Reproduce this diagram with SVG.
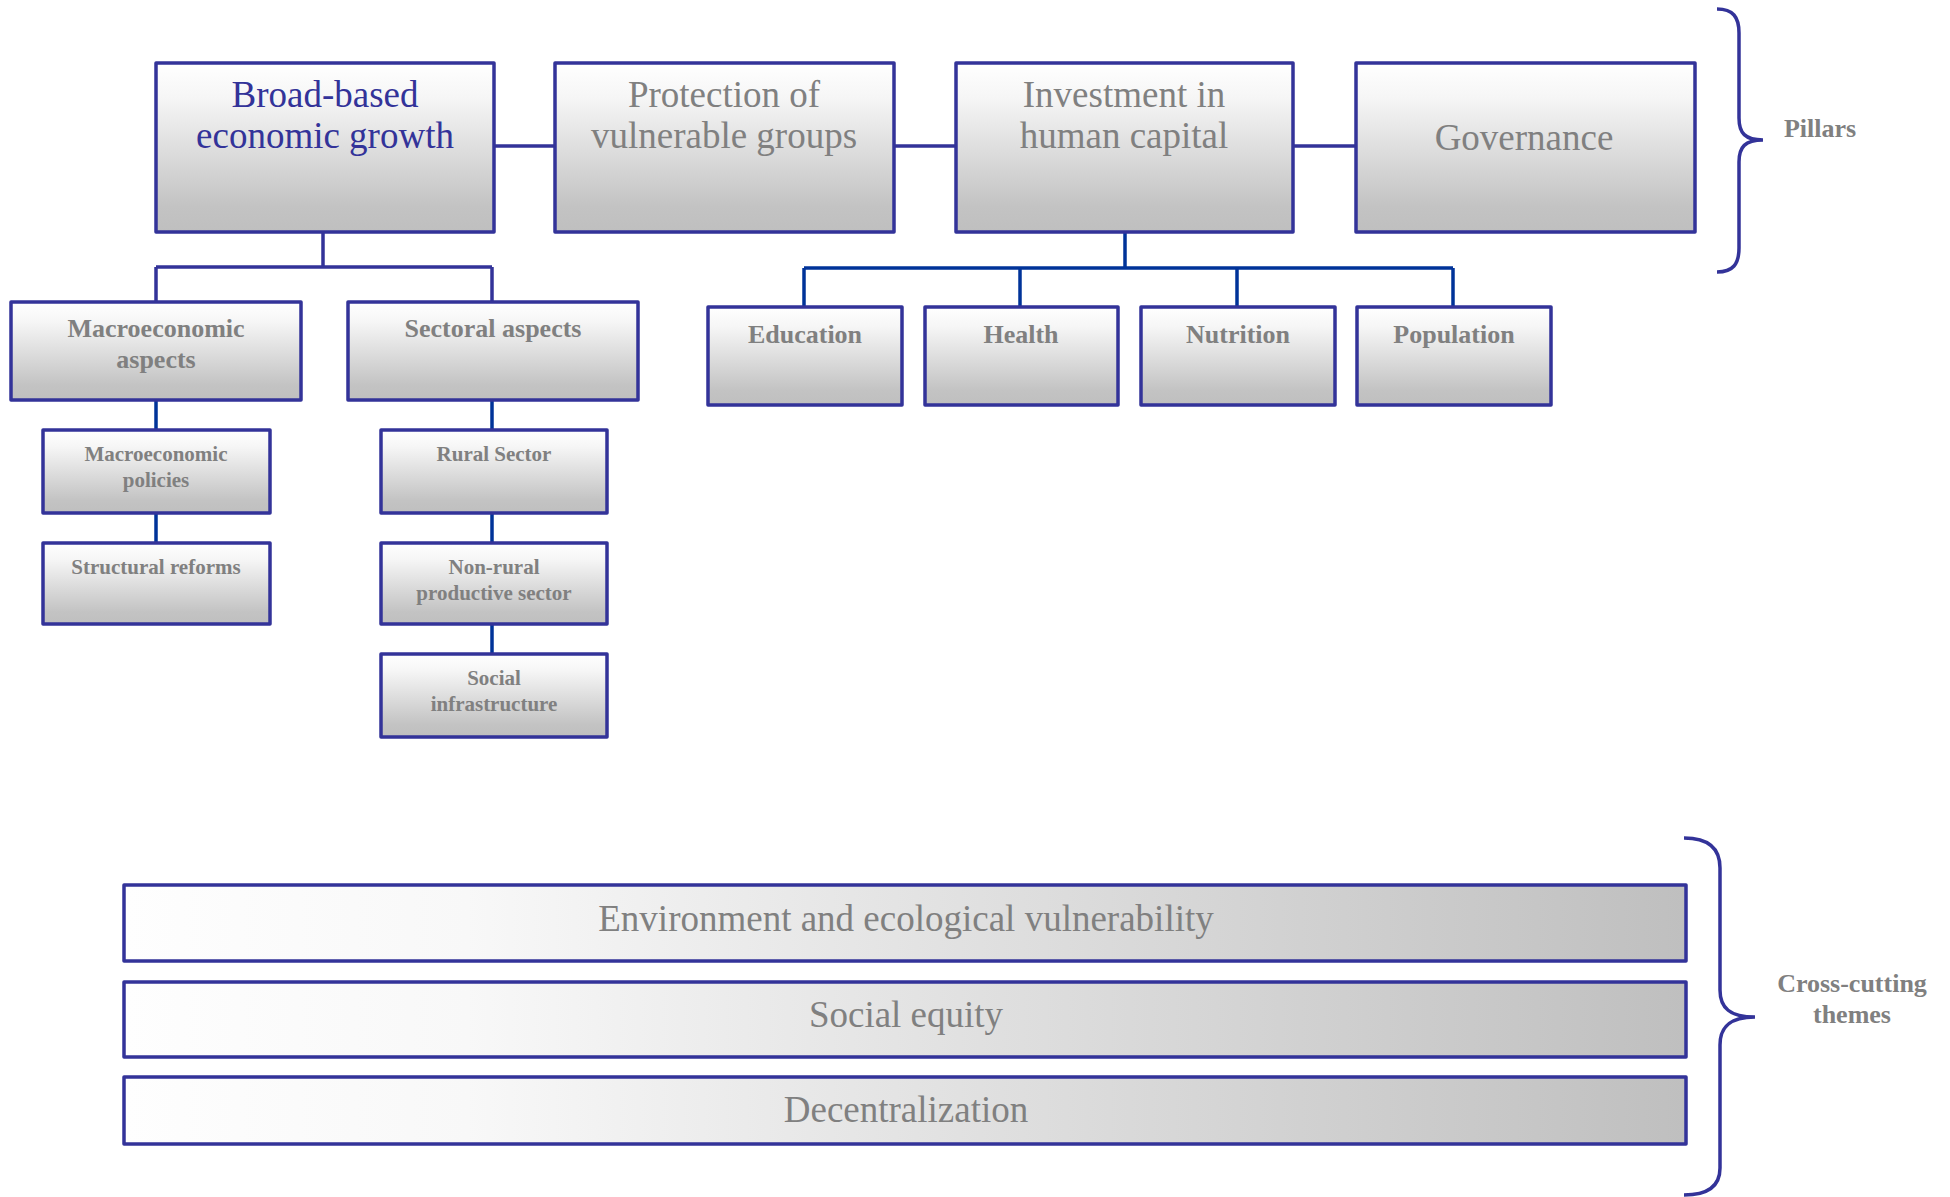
<svg xmlns="http://www.w3.org/2000/svg" width="1950" height="1197" viewBox="0 0 1950 1197">
<defs>
<linearGradient id="gv" x1="0" y1="0" x2="0" y2="1">
<stop offset="0" stop-color="#ffffff"/>
<stop offset="0.2" stop-color="#f6f6f6"/>
<stop offset="0.85" stop-color="#c3c3c3"/>
<stop offset="1" stop-color="#bfbfbf"/>
</linearGradient>
<linearGradient id="gh" x1="0" y1="0" x2="1" y2="0">
<stop offset="0" stop-color="#fefefe"/>
<stop offset="0.22" stop-color="#f8f8f8"/>
<stop offset="1" stop-color="#bfbfbf"/>
</linearGradient>
<style>
.box{fill:url(#gv);stroke:#333399;stroke-width:3.5;stroke-linejoin:round}
.bar{fill:url(#gh);stroke:#333399;stroke-width:3.5;stroke-linejoin:round}
.c1{fill:none;stroke:#333399;stroke-width:3.5}
.c2{fill:none;stroke:#003399;stroke-width:3.5}
.brace{fill:none;stroke:#333399;stroke-width:3.5}
text{font-family:"Liberation Serif","Times New Roman",serif;text-anchor:middle;fill:#808080}
.t1{font-size:37px}
.t2{font-size:26px;font-weight:bold}
.t3{font-size:21px;font-weight:bold}
.blue{fill:#333399}
</style>
</defs>
<g id="connectors">
<path class="c1" d="M494,146H555M894,146H956M1293,146H1356"/>
<path class="c1" d="M323,232V267M156,267H492M156,267V302M492,267V302"/>
<path class="c2" d="M1125,232V268M804,268H1453M804,268V307M1020,268V307M1237,268V307M1453,268V307"/>
<path class="c2" d="M156,400V430M156,513V543M492,400V430M492,513V543M492,624V654"/>
</g>
<g id="n-broad"><rect class="box" x="156" y="63" width="338" height="169"/><text class="t1 blue" x="325" y="107">Broad-based</text><text class="t1 blue" x="325" y="148">economic growth</text></g>
<g id="n-protection"><rect class="box" x="555" y="63" width="339" height="169"/><text class="t1" x="724" y="107">Protection of</text><text class="t1" x="724" y="148">vulnerable groups</text></g>
<g id="n-investment"><rect class="box" x="956" y="63" width="337" height="169"/><text class="t1" x="1124" y="107">Investment in</text><text class="t1" x="1124" y="148">human capital</text></g>
<g id="n-governance"><rect class="box" x="1356" y="63" width="339" height="169"/><text class="t1" x="1524" y="150">Governance</text></g>
<g id="n-macro"><rect class="box" x="11" y="302" width="290" height="98"/><text class="t2" x="156" y="337">Macroeconomic</text><text class="t2" x="156" y="368">aspects</text></g>
<g id="n-sectoral"><rect class="box" x="348" y="302" width="290" height="98"/><text class="t2" x="493" y="337">Sectoral aspects</text></g>
<g id="n-macpol"><rect class="box" x="43" y="430" width="227" height="83"/><text class="t3" x="156" y="461">Macroeconomic</text><text class="t3" x="156" y="487">policies</text></g>
<g id="n-struct"><rect class="box" x="43" y="543" width="227" height="81"/><text class="t3" x="156" y="574">Structural reforms</text></g>
<g id="n-rural"><rect class="box" x="381" y="430" width="226" height="83"/><text class="t3" x="494" y="461">Rural Sector</text></g>
<g id="n-nonrural"><rect class="box" x="381" y="543" width="226" height="81"/><text class="t3" x="494" y="574">Non-rural</text><text class="t3" x="494" y="600">productive sector</text></g>
<g id="n-socinf"><rect class="box" x="381" y="654" width="226" height="83"/><text class="t3" x="494" y="685">Social</text><text class="t3" x="494" y="711">infrastructure</text></g>
<g id="n-education"><rect class="box" x="708" y="307" width="194" height="98"/><text class="t2" x="805" y="343">Education</text></g>
<g id="n-health"><rect class="box" x="925" y="307" width="193" height="98"/><text class="t2" x="1021" y="343">Health</text></g>
<g id="n-nutrition"><rect class="box" x="1141" y="307" width="194" height="98"/><text class="t2" x="1238" y="343">Nutrition</text></g>
<g id="n-population"><rect class="box" x="1357" y="307" width="194" height="98"/><text class="t2" x="1454" y="343">Population</text></g>
<g id="n-env"><rect class="bar" x="124" y="885" width="1562" height="76"/><text class="t1" x="906" y="931">Environment and ecological vulnerability</text></g>
<g id="n-equity"><rect class="bar" x="124" y="982" width="1562" height="75"/><text class="t1" x="906" y="1027">Social equity</text></g>
<g id="n-decent"><rect class="bar" x="124" y="1077" width="1562" height="67"/><text class="t1" x="906" y="1122">Decentralization</text></g>
<g id="pillars">
<path class="brace" d="M1717,9C1733,9 1739,17 1739,33L1739,118C1739,133 1745,140 1763,140C1745,140 1739,147 1739,162L1739,248C1739,264 1733,272 1717,272"/>
<text class="t2" x="1820" y="137">Pillars</text>
</g>
<g id="crosscutting">
<path class="brace" d="M1684,838C1708,838 1720,848 1720,868L1720,990C1720,1008 1730,1017 1755,1017C1730,1017 1720,1027 1720,1045L1720,1168C1720,1186 1708,1195 1684,1195"/>
<text class="t2" x="1852" y="992">Cross-cutting</text>
<text class="t2" x="1852" y="1023">themes</text>
</g>
</svg>
